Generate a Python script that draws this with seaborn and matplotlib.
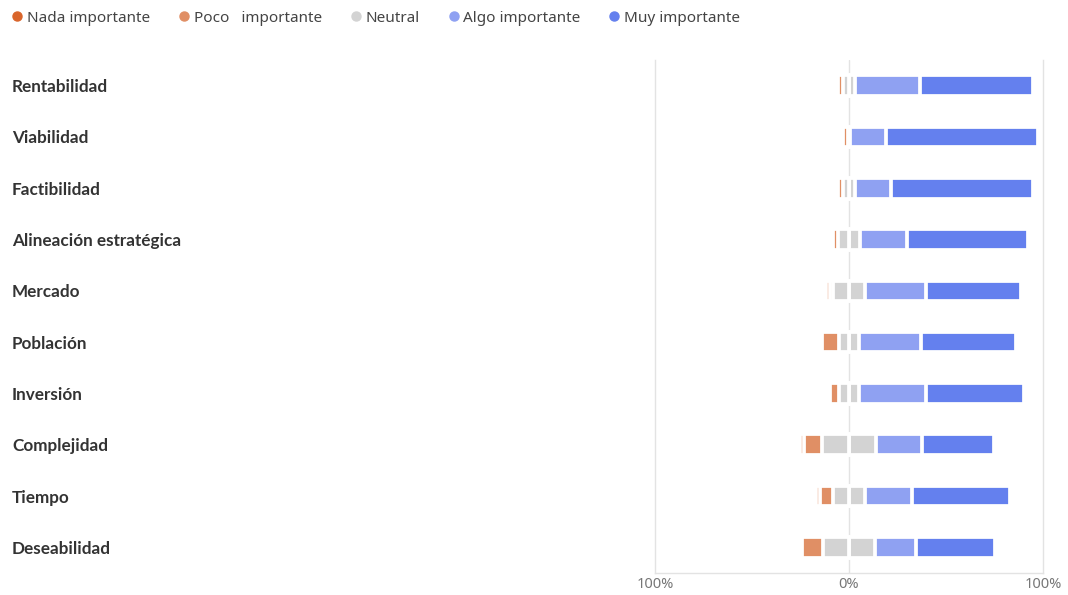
import numpy as np
import pandas as pd
import matplotlib
matplotlib.use("Agg")
import matplotlib.pyplot as plt
from matplotlib.lines import Line2D
import seaborn as sns

categories = ["Rentabilidad", "Viabilidad", "Factibilidad", "Alineación estratégica",
              "Mercado", "Población", "Inversión", "Complejidad", "Tiempo", "Deseabilidad"]
nada = [0.0, 0.0, 0.0, 0.0, 2.0, 0.0, 0.0, 2.5, 2.3, 0.0]
poco = [2.6, 2.4, 2.6, 2.5, 2.0, 8.4, 4.4, 9.2, 6.3, 10.9]
neutral = [6.0, 1.4, 6.0, 11.8, 16.0, 10.8, 10.8, 27.6, 17.0, 26.3]
algo = [33.5, 18.5, 18.9, 23.8, 31.8, 31.7, 34.4, 23.9, 23.9, 21.3]
muy = [58.1, 78.2, 72.7, 62.6, 49.0, 49.1, 50.4, 37.0, 50.4, 40.8]

series_names = ["Nada importante", "Poco   importante", "Neutral", "Algo importante", "Muy importante"]
colors = ["#d9652b", "#e08f65", "#d3d3d3", "#8fa1f2", "#6480ee"]
tick_vals = [-100, 0, 100]
tick_labels = ["100%", "0%", "100%"]

sns.set_theme(style="white")
plt.rcParams["font.family"] = ["Noto Sans", "DejaVu Sans"]

df = pd.DataFrame({"cat": categories, "nada": nada, "poco": poco, "neutral": neutral,
                   "algo": algo, "muy": muy})
half = df["neutral"] / 2
df["r_muy"] = half + df["algo"] + df["muy"]
df["r_algo"] = half + df["algo"]
df["r_neu"] = half
df["l_nada"] = -(half + df["poco"] + df["nada"])
df["l_poco"] = -(half + df["poco"])
df["l_neu"] = -half

fig = plt.figure(figsize=(10.68, 5.95), dpi=100)
ax = fig.add_axes([655 / 1068, 1 - 573 / 595, (1043 - 655) / 1068, (573 - 60) / 595])

ax.axvline(0, color="#e3e3e3", lw=1, zorder=0)

common = dict(y="cat", orient="h", width=0.40, edgecolor="white", linewidth=2.7,
              saturation=1, errorbar=None, ax=ax, zorder=2)
layers = [("r_muy", colors[4]), ("r_algo", colors[3]), ("r_neu", colors[2]),
          ("l_nada", colors[0]), ("l_poco", colors[1]), ("l_neu", colors[2])]
for col, c in layers:
    sns.barplot(data=df, x=col, color=c, **common)

ax.set_xlim(-100, 100)
ax.set_ylim(9.5, -0.5)
ax.set_xticks(tick_vals)
ax.set_xticklabels(tick_labels, color="#777777", fontsize=10.5)
ax.tick_params(axis="x", length=0, pad=3)
ax.set_yticks(range(len(categories)))
ax.set_yticklabels(categories, ha="left", fontweight="bold", color="#333333", fontsize=12.3,
                   family=["Lato", "DejaVu Sans"])
ax.tick_params(axis="y", length=0, pad=463)
ax.set_xlabel("")
ax.set_ylabel("")
for s in ["left", "right", "bottom"]:
    ax.spines[s].set_color("#e3e3e3")
    ax.spines[s].set_linewidth(1)
ax.spines["top"].set_visible(False)

handles = [Line2D([0], [0], marker="o", linestyle="", markersize=6.5,
                  markerfacecolor=c, markeredgecolor=c) for c in colors]
fig.legend(handles, series_names, loc="center left", bbox_to_anchor=(0.002, 1 - 18 / 595),
           ncol=5, frameon=False, fontsize=11, handlelength=0.6, handletextpad=0.35,
           columnspacing=1.9, labelcolor="#444444", borderaxespad=0.3)

fig.savefig("out.png", dpi=100)
